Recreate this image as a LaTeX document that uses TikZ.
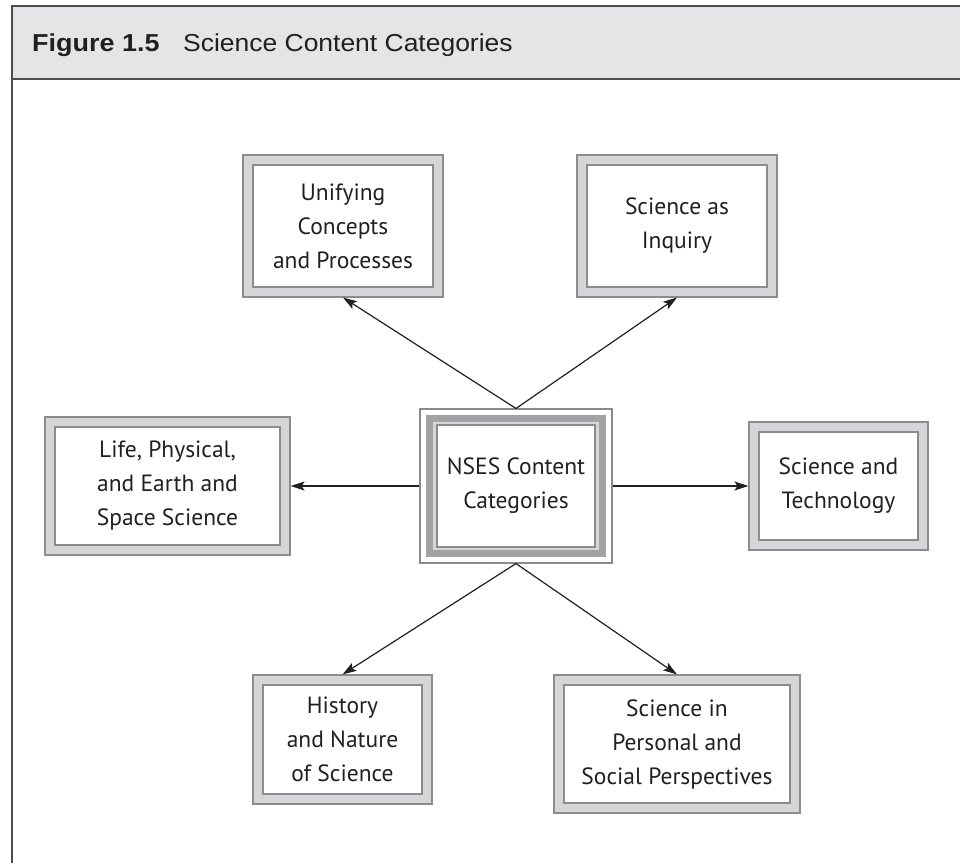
\documentclass[tikz,border=0pt]{standalone}
\usepackage{fontspec}
\setmainfont{PT Sans}
\newfontfamily\titlefontb[FakeStretch=1.1]{Liberation Sans}
\newfontfamily\titlefontr[FakeStretch=1.08]{Liberation Sans}
\usetikzlibrary{arrows.meta,calc}
\definecolor{hdr}{HTML}{E4E5E6}
\definecolor{framec}{HTML}{4D4D4F}
\definecolor{boxline}{HTML}{8C8C8E}
\definecolor{band}{HTML}{D5D6D8}
\definecolor{darkband}{HTML}{A2A3A5}
\definecolor{txt}{HTML}{231F20}
\tikzset{
  framestyle/.style={draw=framec, line width=2pt},
  outerbox/.style={draw=boxline, line width=1.1pt, fill=band, inner sep=0pt},
  innerbox/.style={draw=boxline, line width=1.1pt, fill=white, inner sep=0pt, align=center,
    text=txt, font=\fontsize{23.5}{34}\selectfont},
  arr/.style={line width=1.2pt, draw=txt, -{Stealth[length=14pt,width=9pt,inset=3pt]}},
}
\newcommand\catbox[6]{%
  \node[outerbox, minimum width=#4, minimum height=#5] (#1) at (#2,#3) {};
  \node[innerbox, minimum width=#4-20, minimum height=#5-20] (#1-in) at (#2,#3) {#6};
}
\begin{document}
\begin{tikzpicture}[x=1pt,y=-1pt]
\useasboundingbox (0,0) rectangle (960,862);
% frame and header
\fill[hdr] (11.5,5.5) rectangle (970,78.5);
\draw[framestyle] (970,5.5) -- (11.5,5.5) -- (11.5,875);
\draw[framestyle] (11.5,78.5) -- (970,78.5);
\node[anchor=base west, inner sep=0pt, text=txt, font=\titlefontb\bfseries\fontsize{24.5}{30}\selectfont] (fignum) at (32,51) {Figure 1.5};
\node[anchor=base west, inner sep=0pt, text=txt, font=\titlefontr\fontsize{24.5}{30}\selectfont] (figtitle) at (183,51) {Science Content Categories};
% boxes
\catbox{unify}{343}{226}{200}{142}{Unifying\\Concepts\\and Processes}
\catbox{inquiry}{677}{226}{200}{142}{Science as\\Inquiry}
\catbox{life}{167.5}{486}{245}{138}{Life, Physical,\\and Earth and\\Space Science}
\catbox{tech}{838.5}{486}{179}{128}{Science and\\Technology}
\catbox{hist}{342.5}{739.5}{179}{129}{History\\and Nature\\of Science}
\catbox{pers}{677}{744}{246}{138}{Science in\\Personal and\\Social Perspectives}
% central box
\node[draw=boxline, line width=1.1pt, fill=white, inner sep=0pt, minimum width=192, minimum height=154] (nses) at (516,486) {};
\node[draw=darkband, line width=7pt, fill=band, inner sep=0pt, minimum width=173, minimum height=135] (nses-band) at (516,486) {};
\node[innerbox, minimum width=158, minimum height=122] (nses-in) at (516,486) {NSES Content\\Categories};
% arrows
\draw[arr] (nses.north) -- (unify.south);
\draw[arr] (nses.north) -- (inquiry.south);
\draw[arr] (nses.west) -- (life.east);
\draw[arr] (nses.east) -- (tech.west);
\draw[arr] (nses.south) -- (hist.north);
\draw[arr] (nses.south) -- (pers.north);
\end{tikzpicture}
\end{document}
